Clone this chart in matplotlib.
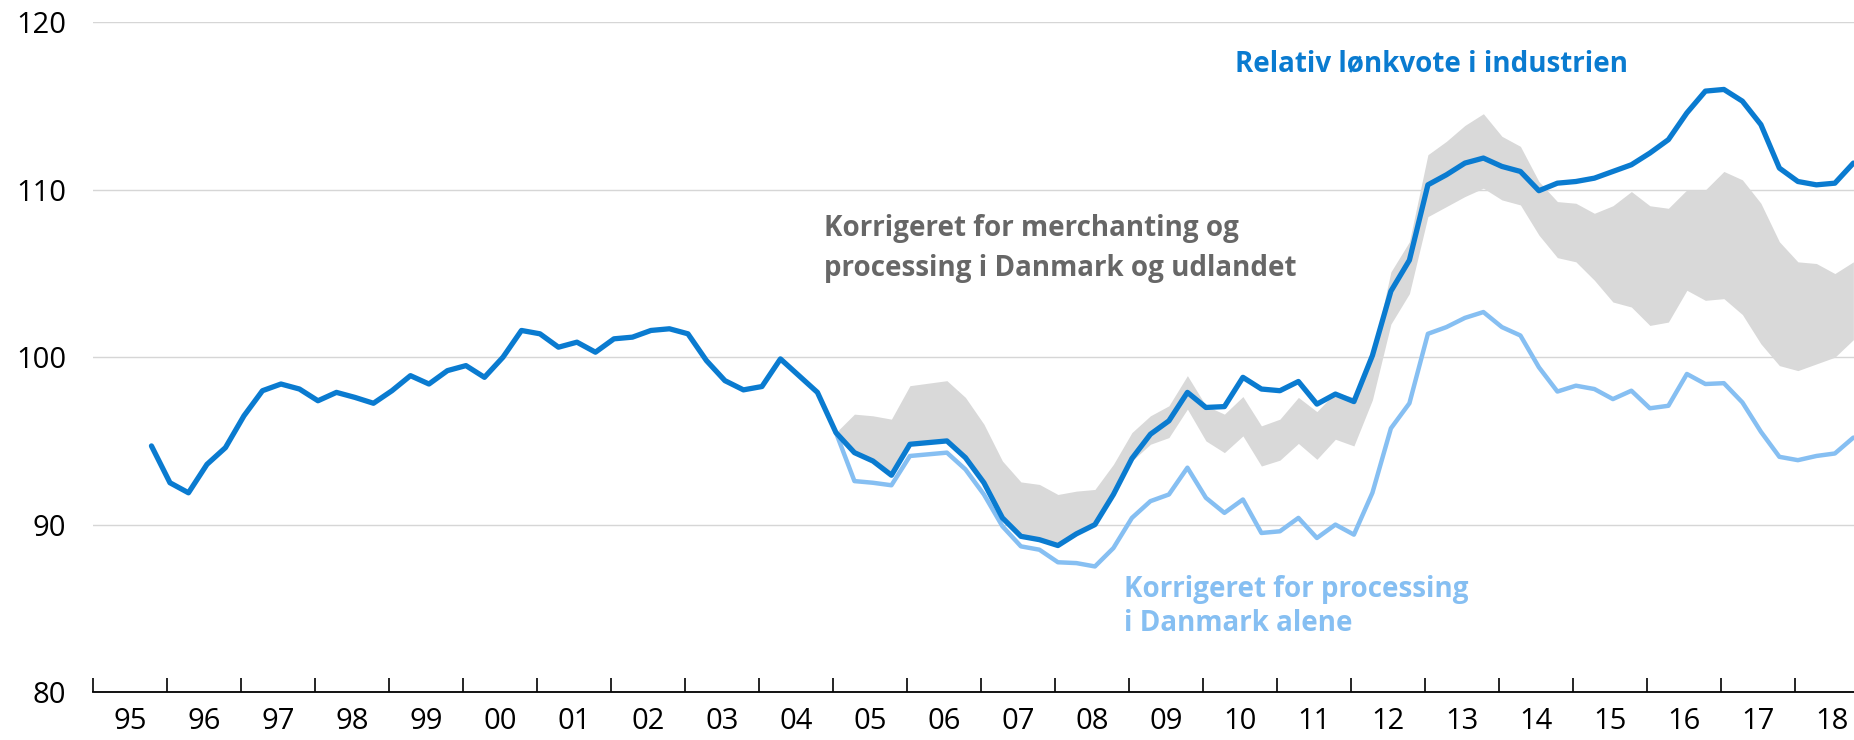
import numpy as np
import matplotlib.pyplot as plt
from matplotlib.ticker import FixedLocator, FixedFormatter

# ---------------------------------------------------------------------------
# Data (quarterly index)
# ---------------------------------------------------------------------------
# Relativ lønkvote i industrien, 1995Q4 - 2018Q4
main_start = (1995, 4)
main_vals = [
    94.7,
    92.5, 91.9, 93.6, 94.6,
    96.5, 98.0, 98.4, 98.1,
    97.4, 97.9, 97.6, 97.25,
    98.0, 98.9, 98.4, 99.2,
    99.5, 98.8, 100.0, 101.6,
    101.4, 100.6, 100.9, 100.3,
    101.1, 101.2, 101.6, 101.7,
    101.4, 99.8, 98.6, 98.05,
    98.25, 99.9, 98.9, 97.9,
    95.5, 94.3, 93.8, 92.95,
    94.8, 94.9, 95.0, 94.0,
    92.5, 90.4, 89.3, 89.1,
    88.75, 89.45, 90.0, 91.8,
    93.95, 95.4, 96.2, 97.9,
    97.0, 97.05, 98.8, 98.1,
    98.0, 98.55, 97.2, 97.8,
    97.35, 100.1, 103.95, 105.8,
    110.3, 110.9, 111.6, 111.9,
    111.4, 111.1, 109.95, 110.4,
    110.5, 110.7, 111.1, 111.5,
    112.2, 113.0, 114.6, 115.9,
    116.0, 115.3, 113.9, 111.3,
    110.5, 110.3, 110.4, 111.6,
]

# Korrigeret for processing i Danmark alene, 2005Q1 - 2018Q4
corr_start = (2005, 1)
processing_vals = [
    95.5, 92.6, 92.5, 92.35,
    94.1, 94.2, 94.3, 93.3,
    91.8, 89.9, 88.7, 88.5,
    87.75, 87.7, 87.5, 88.6,
    90.4, 91.4, 91.8, 93.4,
    91.6, 90.7, 91.5, 89.5,
    89.6, 90.4, 89.2, 90.0,
    89.4, 91.9, 95.75, 97.25,
    101.4, 101.8, 102.35, 102.7,
    101.8, 101.3, 99.4, 97.95,
    98.3, 98.1, 97.5, 98.0,
    96.95, 97.1, 99.0, 98.4,
    98.45, 97.3, 95.55, 94.05,
    93.85, 94.1, 94.25, 95.2,
]

# Korrigeret for merchanting og processing (interval), 2005Q1 - 2018Q4
band_upper = [
    95.5, 96.6, 96.5, 96.3,
    98.3, 98.45, 98.6, 97.6,
    96.0, 93.8, 92.55, 92.4,
    91.8, 92.0, 92.1, 93.6,
    95.5, 96.5, 97.1, 98.9,
    97.1, 96.6, 97.65, 95.9,
    96.3, 97.6, 96.75, 97.9,
    97.6, 100.1, 105.1, 106.9,
    112.1, 112.9, 113.85, 114.55,
    113.2, 112.6, 110.5, 109.3,
    109.2, 108.6, 109.05, 109.9,
    109.05, 108.9, 110.0, 110.0,
    111.1, 110.6, 109.2, 106.9,
    105.7, 105.6, 105.0, 105.7,
]
band_lower = [
    95.5, 94.3, 93.8, 92.95,
    94.8, 94.9, 95.0, 94.0,
    92.5, 90.4, 89.3, 89.1,
    88.75, 89.45, 90.0, 91.8,
    93.8, 94.8, 95.2, 96.9,
    95.0, 94.3, 95.3, 93.5,
    93.85, 94.85, 93.9, 95.1,
    94.7, 97.45, 101.98, 103.8,
    108.4, 109.0, 109.6, 110.1,
    109.4, 109.1, 107.3, 105.95,
    105.7, 104.6, 103.3, 103.0,
    101.9, 102.1, 104.0, 103.4,
    103.5, 102.55, 100.8, 99.5,
    99.2, 99.6, 100.0, 101.05,
]

years = list(range(1995, 2019))
year_labels = [f"{y % 100:02d}" for y in years]
y_ticks = [80, 90, 100, 110, 120]

COL = {
    "main": "#0a7bd0",
    "proc": "#86bff2",
    "band": "#d9d9d9",
    "band_text": "#676767",
    "grid": "#d6d6d6",
}


def quarter_positions(start, n):
    """Decimal-year x position for n quarters (plotted mid first month)."""
    y0, q0 = start
    idx = np.arange(n) + (q0 - 1)
    return y0 + idx // 4 + (idx % 4) / 4 + 1 / 24


x_main = quarter_positions(main_start, len(main_vals))
x_corr = quarter_positions(corr_start, len(processing_vals))

fig = plt.figure(figsize=(18.54, 7.40), dpi=100)
ax = fig.add_axes([0.0501, 0.0649, 0.9499, 0.9047])

ax.fill_between(x_corr, band_lower, band_upper, color=COL["band"],
                linewidth=0, zorder=1)
ax.plot(x_corr, processing_vals, color=COL["proc"], linewidth=3.2,
        solid_joinstyle="round", solid_capstyle="round", zorder=2)
ax.plot(x_main, main_vals, color=COL["main"], linewidth=3.8,
        solid_joinstyle="round", solid_capstyle="round", zorder=3)

ax.set_xlim(1995, 2018.8)
ax.set_ylim(80, 120)

# grid + axes
ax.yaxis.set_major_locator(FixedLocator(y_ticks))
ax.grid(axis="y", color=COL["grid"], linewidth=1.0)
ax.set_axisbelow(True)
for s in ("left", "right", "top"):
    ax.spines[s].set_visible(False)
ax.spines["bottom"].set_color("black")
ax.spines["bottom"].set_linewidth(1.3)
ax.spines["bottom"].set_zorder(5)

tick_font = ["Open Sans", "DejaVu Sans"]
ax.tick_params(axis="y", length=0, labelsize=21, pad=19)
ax.set_yticklabels([str(v) for v in y_ticks])

ax.xaxis.set_major_locator(FixedLocator(years))
ax.xaxis.set_major_formatter(FixedFormatter([""] * len(years)))
ax.xaxis.set_minor_locator(FixedLocator([y + 0.5 for y in years]))
ax.xaxis.set_minor_formatter(FixedFormatter(year_labels))
ax.tick_params(axis="x", which="major", direction="in", length=10,
               width=1.2, color="black")
ax.tick_params(axis="x", which="minor", length=0, labelsize=21, pad=11)

for lbl in ax.get_yticklabels() + ax.get_xticklabels(minor=True):
    lbl.set_fontfamily(tick_font)

# series labels
label_font = ["Open Sans", "DejaVu Sans"]
ax.text(2010.44, 117.55, "Relativ lønkvote i industrien", color=COL["main"],
        fontsize=20, fontweight="bold", family=label_font, va="center")
ax.text(2004.88, 106.5,
        "Korrigeret for merchanting og\nprocessing i Danmark og udlandet",
        color=COL["band_text"], fontsize=20, fontweight="bold",
        family=label_font, va="center", linespacing=1.5)
ax.text(2008.94, 85.1, "Korrigeret for processing\ni Danmark alene",
        color=COL["proc"], fontsize=20, fontweight="bold",
        family=label_font, va="center", linespacing=1.25)

fig.savefig("out.png", dpi=100)
